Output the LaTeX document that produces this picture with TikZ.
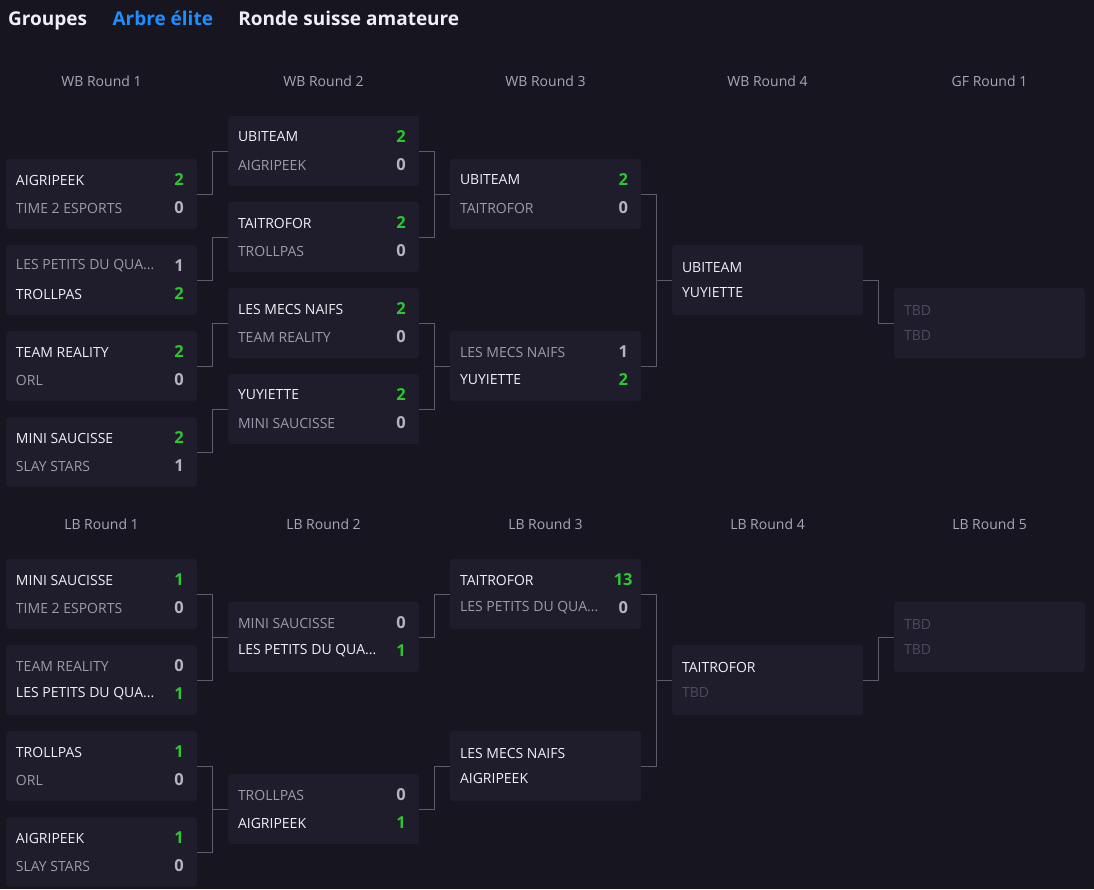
\documentclass[tikz,border=0pt]{standalone}
\usepackage{fontspec}
\setmainfont{Open Sans}
\usetikzlibrary{positioning}

\definecolor{bg}{HTML}{17151F}
\definecolor{card}{HTML}{1F1C2C}
\definecolor{wire}{HTML}{5E5C6C}
\definecolor{hot}{HTML}{2EC62E}
\definecolor{cold}{HTML}{B4B3C2}
\definecolor{fore}{HTML}{F0EFF5}
\definecolor{dim}{HTML}{9C9AAB}
\definecolor{void}{HTML}{4D4B5D}
\definecolor{tabblue}{HTML}{1E8FFF}
\definecolor{head}{HTML}{A9A7B6}

% match card with two scored rows
\newcommand{\duel}[8]{%
  \node[gamebox] (#1) at (#2) {};
  \node[#3, anchor=west] (#1-a) at ([xshift=10pt,yshift=14pt]#1.west) {#4};
  \node[#3pts] (#1-as) at ([xshift=-18pt,yshift=14pt]#1.east) {#5};
  \node[#6, anchor=west] (#1-b) at ([xshift=10pt,yshift=-14pt]#1.west) {#7};
  \node[#6pts] (#1-bs) at ([xshift=-18pt,yshift=-14pt]#1.east) {#8};
}
% match card still waiting, no scores
\newcommand{\pending}[6]{%
  \node[gamebox] (#1) at (#2) {};
  \node[#3, anchor=west] (#1-a) at ([xshift=10pt,yshift=12.5pt]#1.west) {#4};
  \node[#5, anchor=west] (#1-b) at ([xshift=10pt,yshift=-12.5pt]#1.west) {#6};
}

\begin{document}
\begin{tikzpicture}[x=1pt, y=-1pt,
    gamebox/.style={fill=card, rounded corners=3pt, minimum width=191pt, minimum height=70pt, inner sep=0pt},
    label/.style={inner sep=0pt, font=\fontsize{14}{16}\selectfont},
    win/.style={label, text=fore},
    lose/.style={label, text=dim},
    tbd/.style={label, text=void},
    winpts/.style={inner sep=0pt, text=hot, font=\fontsize{16.5}{18}\selectfont\bfseries},
    losepts/.style={inner sep=0pt, text=cold, font=\fontsize{16.5}{18}\selectfont\bfseries},
    roundname/.style={inner sep=0pt, text=head, font=\fontsize{14}{16}\selectfont},
    tabname/.style={inner sep=0pt, anchor=west, text=fore, text height=14pt, text depth=4pt,
      font=\fontsize{19}{22}\selectfont\bfseries},
    link/.style={draw=wire, line width=1pt}]

  \fill[bg] (0,0) rectangle (1094,889);
  \useasboundingbox (0,0) rectangle (1094,889);

  % tabs
  \node[tabname] (groupes) at (8,20) {Groupes};
  \node[tabname, text=tabblue, right=25pt of groupes] (elite) {Arbre élite};
  \node[tabname, right=25pt of elite] (suisse) {Ronde suisse amateure};

  % round titles
  \node[roundname] (wbr1) at (101.5,81) {WB Round 1};
  \node[roundname] (wbr2) at (323.5,81) {WB Round 2};
  \node[roundname] (wbr3) at (545.5,81) {WB Round 3};
  \node[roundname] (wbr4) at (767.5,81) {WB Round 4};
  \node[roundname] (gfr1) at (989.5,81) {GF Round 1};
  \node[roundname] (lbr1) at (101.5,524) {LB Round 1};
  \node[roundname] (lbr2) at (323.5,524) {LB Round 2};
  \node[roundname] (lbr3) at (545.5,524) {LB Round 3};
  \node[roundname] (lbr4) at (767.5,524) {LB Round 4};
  \node[roundname] (lbr5) at (989.5,524) {LB Round 5};

  % winners bracket
  \duel{w1a}{101.5,194}{win}{AIGRIPEEK}{2}{lose}{TIME 2 ESPORTS}{0}
  \duel{w1b}{101.5,280}{lose}{LES PETITS DU QUA...}{1}{win}{TROLLPAS}{2}
  \duel{w1c}{101.5,366}{win}{TEAM REALITY}{2}{lose}{ORL}{0}
  \duel{w1d}{101.5,452}{win}{MINI SAUCISSE}{2}{lose}{SLAY STARS}{1}
  \duel{w2a}{323.5,151}{win}{UBITEAM}{2}{lose}{AIGRIPEEK}{0}
  \duel{w2b}{323.5,237}{win}{TAITROFOR}{2}{lose}{TROLLPAS}{0}
  \duel{w2c}{323.5,323}{win}{LES MECS NAIFS}{2}{lose}{TEAM REALITY}{0}
  \duel{w2d}{323.5,409}{win}{YUYIETTE}{2}{lose}{MINI SAUCISSE}{0}
  \duel{w3a}{545.5,194}{win}{UBITEAM}{2}{lose}{TAITROFOR}{0}
  \duel{w3b}{545.5,366}{lose}{LES MECS NAIFS}{1}{win}{YUYIETTE}{2}
  \pending{w4a}{767.5,280}{win}{UBITEAM}{win}{YUYIETTE}
  \pending{gf1}{989.5,323}{tbd}{TBD}{tbd}{TBD}

  % losers bracket
  \duel{l1a}{101.5,594}{win}{MINI SAUCISSE}{1}{lose}{TIME 2 ESPORTS}{0}
  \duel{l1b}{101.5,680}{lose}{TEAM REALITY}{0}{win}{LES PETITS DU QUA...}{1}
  \duel{l1c}{101.5,766}{win}{TROLLPAS}{1}{lose}{ORL}{0}
  \duel{l1d}{101.5,852}{win}{AIGRIPEEK}{1}{lose}{SLAY STARS}{0}
  \duel{l2a}{323.5,637}{lose}{MINI SAUCISSE}{0}{win}{LES PETITS DU QUA...}{1}
  \duel{l2b}{323.5,809}{lose}{TROLLPAS}{0}{win}{AIGRIPEEK}{1}
  \duel{l3a}{545.5,594}{win}{TAITROFOR}{13}{lose}{LES PETITS DU QUA...}{0}
  \pending{l3b}{545.5,766}{win}{LES MECS NAIFS}{win}{AIGRIPEEK}
  \pending{l4a}{767.5,680}{win}{TAITROFOR}{tbd}{TBD}
  \pending{l5a}{989.5,637}{tbd}{TBD}{tbd}{TBD}

  % connectors
  \draw[link] (w1a.east) -- ++(15.5,0) |- (w2a.west);
  \draw[link] (w1b.east) -- ++(15.5,0) |- (w2b.west);
  \draw[link] (w1c.east) -- ++(15.5,0) |- (w2c.west);
  \draw[link] (w1d.east) -- ++(15.5,0) |- (w2d.west);
  \draw[link] (w2a.east) -- ++(15.5,0) |- (w3a.west);
  \draw[link] (w2b.east) -- ++(15.5,0) |- (w3a.west);
  \draw[link] (w2c.east) -- ++(15.5,0) |- (w3b.west);
  \draw[link] (w2d.east) -- ++(15.5,0) |- (w3b.west);
  \draw[link] (w3a.east) -- ++(15.5,0) |- (w4a.west);
  \draw[link] (w3b.east) -- ++(15.5,0) |- (w4a.west);
  \draw[link] (w4a.east) -- ++(15.5,0) |- (gf1.west);

  \draw[link] (l1a.east) -- ++(15.5,0) |- (l2a.west);
  \draw[link] (l1b.east) -- ++(15.5,0) |- (l2a.west);
  \draw[link] (l1c.east) -- ++(15.5,0) |- (l2b.west);
  \draw[link] (l1d.east) -- ++(15.5,0) |- (l2b.west);
  \draw[link] (l2a.east) -- ++(15.5,0) |- (l3a.west);
  \draw[link] (l2b.east) -- ++(15.5,0) |- (l3b.west);
  \draw[link] (l3a.east) -- ++(15.5,0) |- (l4a.west);
  \draw[link] (l3b.east) -- ++(15.5,0) |- (l4a.west);
  \draw[link] (l4a.east) -- ++(15.5,0) |- (l5a.west);
\end{tikzpicture}
\end{document}
